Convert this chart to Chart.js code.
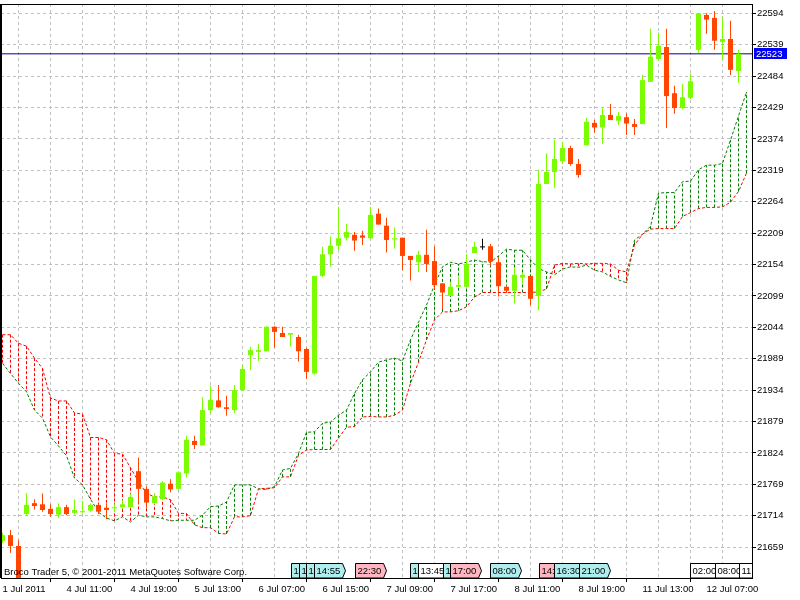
<!DOCTYPE html>
<html>
<head>
<meta charset="utf-8">
<title>H1 Ichimoku</title>
<script src="https://cdn.jsdelivr.net/npm/chart.js@4.4.0/dist/chart.umd.min.js"></script>
<style>
  html, body { margin: 0; padding: 0; background: #ffffff; }
  #wrap { width: 800px; height: 600px; }
</style>
</head>
<body>
<div id="wrap"><canvas id="chart" width="800" height="600"></canvas></div>
<script>
// hourly bars, index 0 = 1 Jul 2011
const opens = [21670,21680,21661,21717,21736,21734,21726,21716,21729,21719,
  21720,21723,21733,21728,21727,21729,21729,21792,21761,21736,
  21743,21770,21761,21788,21845,21837,21899,21916,21904,21899,
  21934,21995,22001,22002,22045,22034,22031,22027,22006,21963,
  22134,22172,22187,22201,22206,22205,22200,22243,22222,22198,
  22201,22169,22158,22171,22160,22121,22099,22115,22115,22174,
  22184,22186,22158,22115,22108,22131,22134,22099,22295,22316,
  22335,22358,22330,22363,22402,22394,22416,22406,22412,22400,
  22400,22474,22514,22535,22454,22428,22446,22530,22591,22586,
  22544,22549,22493];
const highs = [21684,21689,21671,21754,21743,21753,21734,21736,21733,21743,
  21740,21736,21735,21736,21734,21741,21753,21816,21765,21754,
  21775,21778,21792,21854,21854,21922,21942,21943,21924,21943,
  21977,22010,22015,22046,22046,22045,22034,22031,22008,22134,
  22185,22203,22255,22225,22211,22213,22255,22252,22236,22219,
  22201,22169,22178,22215,22186,22121,22123,22133,22172,22194,
  22199,22190,22166,22118,22148,22140,22134,22320,22349,22373,
  22369,22362,22339,22411,22407,22428,22435,22421,22419,22409,
  22486,22567,22560,22567,22467,22470,22488,22594,22594,22598,
  22588,22581,22530];
const lows = [21666,21649,21590,21715,21725,21721,21712,21710,21715,21716,
  21718,21721,21717,21708,21720,21726,21727,21736,21727,21734,
  21741,21755,21759,21781,21831,21837,21893,21903,21889,21894,
  21933,21969,21985,22002,22008,22027,22010,21984,21954,21961,
  22132,22150,22179,22196,22178,22188,22199,22224,22175,22182,
  22144,22126,22141,22141,22111,22076,22099,22115,22115,22174,
  22180,22151,22098,22104,22086,22120,22083,22074,22295,22288,
  22330,22327,22306,22363,22385,22365,22407,22398,22381,22381,
  22400,22474,22511,22393,22418,22426,22444,22525,22558,22530,
  22512,22486,22472];
const closes = [21680,21661,21598,21733,21731,21724,21717,21729,21717,21724,
  21722,21733,21721,21724,21729,21734,21747,21761,21737,21748,
  21772,21760,21790,21847,21838,21899,21917,21904,21901,21934,
  21971,22004,22004,22045,22036,22027,22034,22002,21966,22134,
  22172,22187,22200,22211,22196,22201,22241,22224,22197,22200,
  22169,22162,22171,22155,22118,22105,22115,22118,22155,22185,
  22184,22159,22116,22108,22136,22136,22094,22295,22316,22339,
  22358,22330,22311,22404,22394,22416,22407,22414,22401,22395,
  22477,22518,22537,22449,22428,22447,22475,22594,22583,22546,
  22549,22495,22523];

// Ichimoku cloud (already shifted forward), one value per bar slot
const spanA = [22031,22031,22016,22011,21990,21972,21920,21915,21915,21894,
  21892,21851,21851,21847,21823,21822,21798,21774,21753,21747,
  21747,21742,21718,21718,21698,21693,21693,21683,21682,21712,
  21712,21714,21761,21762,21763,21782,21782,21820,21829,21830,
  21830,21830,21850,21869,21870,21887,21888,21887,21887,21890,
  21899,21946,21983,22022,22057,22071,22071,22073,22080,22097,
  22105,22105,22105,22105,22105,22105,22105,22106,22111,22153,
  22156,22155,22156,22155,22156,22156,22155,22144,22141,22188,
  22207,22216,22217,22217,22217,22238,22245,22252,22254,22254,
  22255,22263,22282,22314];
const spanB = [21981,21963,21946,21931,21899,21885,21852,21836,21819,21780,
  21768,21743,21720,21710,21705,21712,21703,21715,21712,21712,
  21709,21705,21706,21706,21706,21715,21730,21731,21738,21768,
  21768,21768,21761,21760,21765,21794,21797,21823,21860,21861,
  21876,21878,21890,21899,21928,21952,21966,21983,21987,21990,
  21985,22022,22053,22083,22118,22150,22158,22155,22158,22162,
  22159,22158,22169,22181,22179,22179,22162,22147,22141,22136,
  22146,22150,22149,22153,22144,22141,22133,22127,22122,22197,
  22207,22221,22279,22280,22280,22299,22300,22320,22328,22328,
  22331,22372,22414,22456];

const priceTicks = [21659,21714,21769,21824,21879,21934,21989,22044,22099,
  22154,22209,22264,22319,22374,22429,22484,22539,22594];
const timeTickBars = [0,8,16,24,32,40,48,56,64,72,80,88];
const timeTickLabels = ["1 Jul 2011","4 Jul 11:00","4 Jul 19:00","5 Jul 13:00",
  "6 Jul 07:00","6 Jul 15:00","7 Jul 09:00","7 Jul 17:00","8 Jul 11:00",
  "8 Jul 19:00","11 Jul 13:00","12 Jul 07:00"];
const lastPrice = 22523;

// calendar events along the bottom
const eventBars = [36.0,37.0,37.9,38.9,44.0,50.9,51.9,55.0,55.9,60.9,67.0,68.9,72.0,85.9,89.0,92.1];
const eventTexts = ["1","1","1","14:55","22:30","1","13:45","1","17:00","08:00","14:","16:30","21:00","02:00","08:00","11:00"];
const eventKinds = ["c","c","c","c","p","c","w","c","p","c","p","c","c","w","w","w"];

const copyright = "Broco Trader 5, \u00a9 2001-2011 MetaQuotes Software Corp.";

const FONT = "'Liberation Sans', Arial, sans-serif";
const bull = "#7cfc00";
const bear = "#ff4500";
const doji = "#000000";
const eventFill = { c: "#afeeee", p: "#ffb6c1", w: "#ffffff" };

const xMin = -0.1875;
const xMax = 93.6875;
const yMin = 21604.9;
const yMax = 22610.3;

const candleColor = opens.map((o, i) =>
  closes[i] > o ? bull : (closes[i] < o ? bear : doji));

const bodies = opens.map((o, i) => ({ x: i, y: [o, closes[i]] }));
const wicks = lows.map((l, i) => ({ x: i, y: [l, highs[i]] }));
const lineA = spanA.map((v, i) => ({ x: i, y: v }));
const lineB = spanB.map((v, i) => ({ x: i, y: v }));

const redHatch = [];
const greenHatch = [];
spanA.forEach((a, i) => {
  const b = spanB[i];
  if (a === b) return;
  const target = a > b ? redHatch : greenHatch;
  target.push({ x: i, y: a }, { x: i, y: b }, { x: i, y: null });
});

const gridBars = [];
for (let b = 0; b <= 92; b += 4) gridBars.push(b);

Chart.defaults.font.family = FONT;
Chart.defaults.font.size = 9.5;
Chart.defaults.color = "#000";

const notes = {
  id: "notes",
  afterDraw(chart) {
    const { ctx, chartArea: a, scales } = chart;
    const xs = scales.x;
    const ys = scales.y;
    ctx.save();

    // frame
    ctx.fillStyle = "#000";
    ctx.fillRect(0, a.top, 2, a.bottom - a.top);
    ctx.fillRect(0, a.top, a.right, 1);

    ctx.font = "9.5px " + FONT;

    // copyright
    ctx.fillStyle = "#000";
    ctx.textBaseline = "alphabetic";
    ctx.fillText(copyright, 4, 575);

    // event boxes
    ctx.save();
    ctx.beginPath();
    ctx.rect(a.left, a.top, a.right - a.left, a.bottom - a.top);
    ctx.clip();
    const top = 563.5;
    const bottom = 578;
    eventBars.forEach((v, i) => {
      const left = Math.round(xs.getPixelForValue(v)) + 0.5;
      const w = Math.ceil(ctx.measureText(eventTexts[i]).width) + 4;
      const right = left + w;
      ctx.beginPath();
      ctx.moveTo(left, bottom);
      ctx.lineTo(left, top);
      ctx.lineTo(right, top);
      ctx.lineTo(right + 3, (top + bottom) / 2);
      ctx.lineTo(right, bottom);
      ctx.closePath();
      ctx.fillStyle = eventFill[eventKinds[i]];
      ctx.fill();
      ctx.strokeStyle = "#000";
      ctx.lineWidth = 1;
      ctx.stroke();
      ctx.fillStyle = "#000";
      ctx.fillText(eventTexts[i], left + 2, 574);
    });
    ctx.restore();

    // last price tag
    const py = Math.round(ys.getPixelForValue(lastPrice));
    ctx.fillStyle = "#0000ff";
    ctx.fillRect(ys.left + 2, py - 6, 33, 11);
    ctx.fillStyle = "#ffffff";
    ctx.textBaseline = "middle";
    ctx.fillText(String(lastPrice), ys.left + 4, py);

    ctx.restore();
  }
};

new Chart(document.getElementById("chart"), {
  type: "bar",
  data: {
    datasets: [
      {
        type: "bar",
        label: "body",
        data: bodies,
        backgroundColor: candleColor,
        borderWidth: 0,
        barThickness: 5,
        minBarLength: 1,
        grouped: false,
        inflateAmount: 0,
        order: 0
      },
      {
        type: "bar",
        label: "wick",
        data: wicks,
        backgroundColor: candleColor,
        borderWidth: 0,
        barThickness: 1,
        grouped: false,
        inflateAmount: 0,
        order: 1
      },
      {
        type: "line",
        label: "price",
        data: [{ x: xMin - 1, y: lastPrice }, { x: xMax + 1, y: lastPrice }],
        borderColor: "#0000a0",
        borderWidth: 1,
        pointRadius: 0,
        order: 2
      },
      {
        type: "line",
        label: "Senkou Span A",
        data: lineA,
        borderColor: "#ff0000",
        borderWidth: 1,
        borderDash: [3, 2],
        pointRadius: 0,
        tension: 0,
        order: 3
      },
      {
        type: "line",
        label: "Senkou Span B",
        data: lineB,
        borderColor: "#008000",
        borderWidth: 1,
        borderDash: [3, 2],
        pointRadius: 0,
        tension: 0,
        order: 4
      },
      {
        type: "line",
        label: "cloud down",
        data: redHatch,
        borderColor: "#ff0000",
        borderWidth: 1,
        borderDash: [3, 2],
        pointRadius: 0,
        spanGaps: false,
        order: 5
      },
      {
        type: "line",
        label: "cloud up",
        data: greenHatch,
        borderColor: "#008000",
        borderWidth: 1,
        borderDash: [3, 2],
        pointRadius: 0,
        spanGaps: false,
        order: 6
      }
    ]
  },
  options: {
    responsive: false,
    maintainAspectRatio: false,
    animation: false,
    events: [],
    layout: { padding: { top: 4, left: 1, right: 0, bottom: 0 }, autoPadding: false },
    plugins: { legend: { display: false }, tooltip: { enabled: false } },
    scales: {
      x: {
        type: "linear",
        position: "bottom",
        min: xMin,
        max: xMax,
        offset: false,
        afterBuildTicks: s => { s.ticks = gridBars.map(v => ({ value: v })); },
        afterFit: s => { s.height = 22; s.paddingLeft = 0; s.paddingRight = 0; },
        ticks: {
          autoSkip: false,
          maxRotation: 0,
          minRotation: 0,
          align: "start",
          padding: 2,
          callback: v => {
            const k = timeTickBars.indexOf(v);
            return k >= 0 ? timeTickLabels[k] : "";
          }
        },
        grid: {
          color: "#c0c0c0",
          lineWidth: 1,
          tickLength: 4,
          tickColor: c => (c.tick && timeTickBars.includes(c.tick.value)) ? "#000" : "rgba(0,0,0,0)"
        },
        border: { display: true, color: "#000", width: 1, dash: [3, 3] }
      },
      y: {
        type: "linear",
        position: "right",
        min: yMin,
        max: yMax,
        afterBuildTicks: s => { s.ticks = priceTicks.map(v => ({ value: v })); },
        afterFit: s => { s.width = 48; s.paddingTop = 0; s.paddingBottom = 0; },
        ticks: { padding: 1, callback: v => String(v) },
        grid: { color: "#c0c0c0", lineWidth: 1, tickLength: 4, tickColor: "#000" },
        border: { display: true, color: "#000", width: 1, dash: [3, 3] }
      }
    }
  },
  plugins: [notes]
});
</script>
</body>
</html>
